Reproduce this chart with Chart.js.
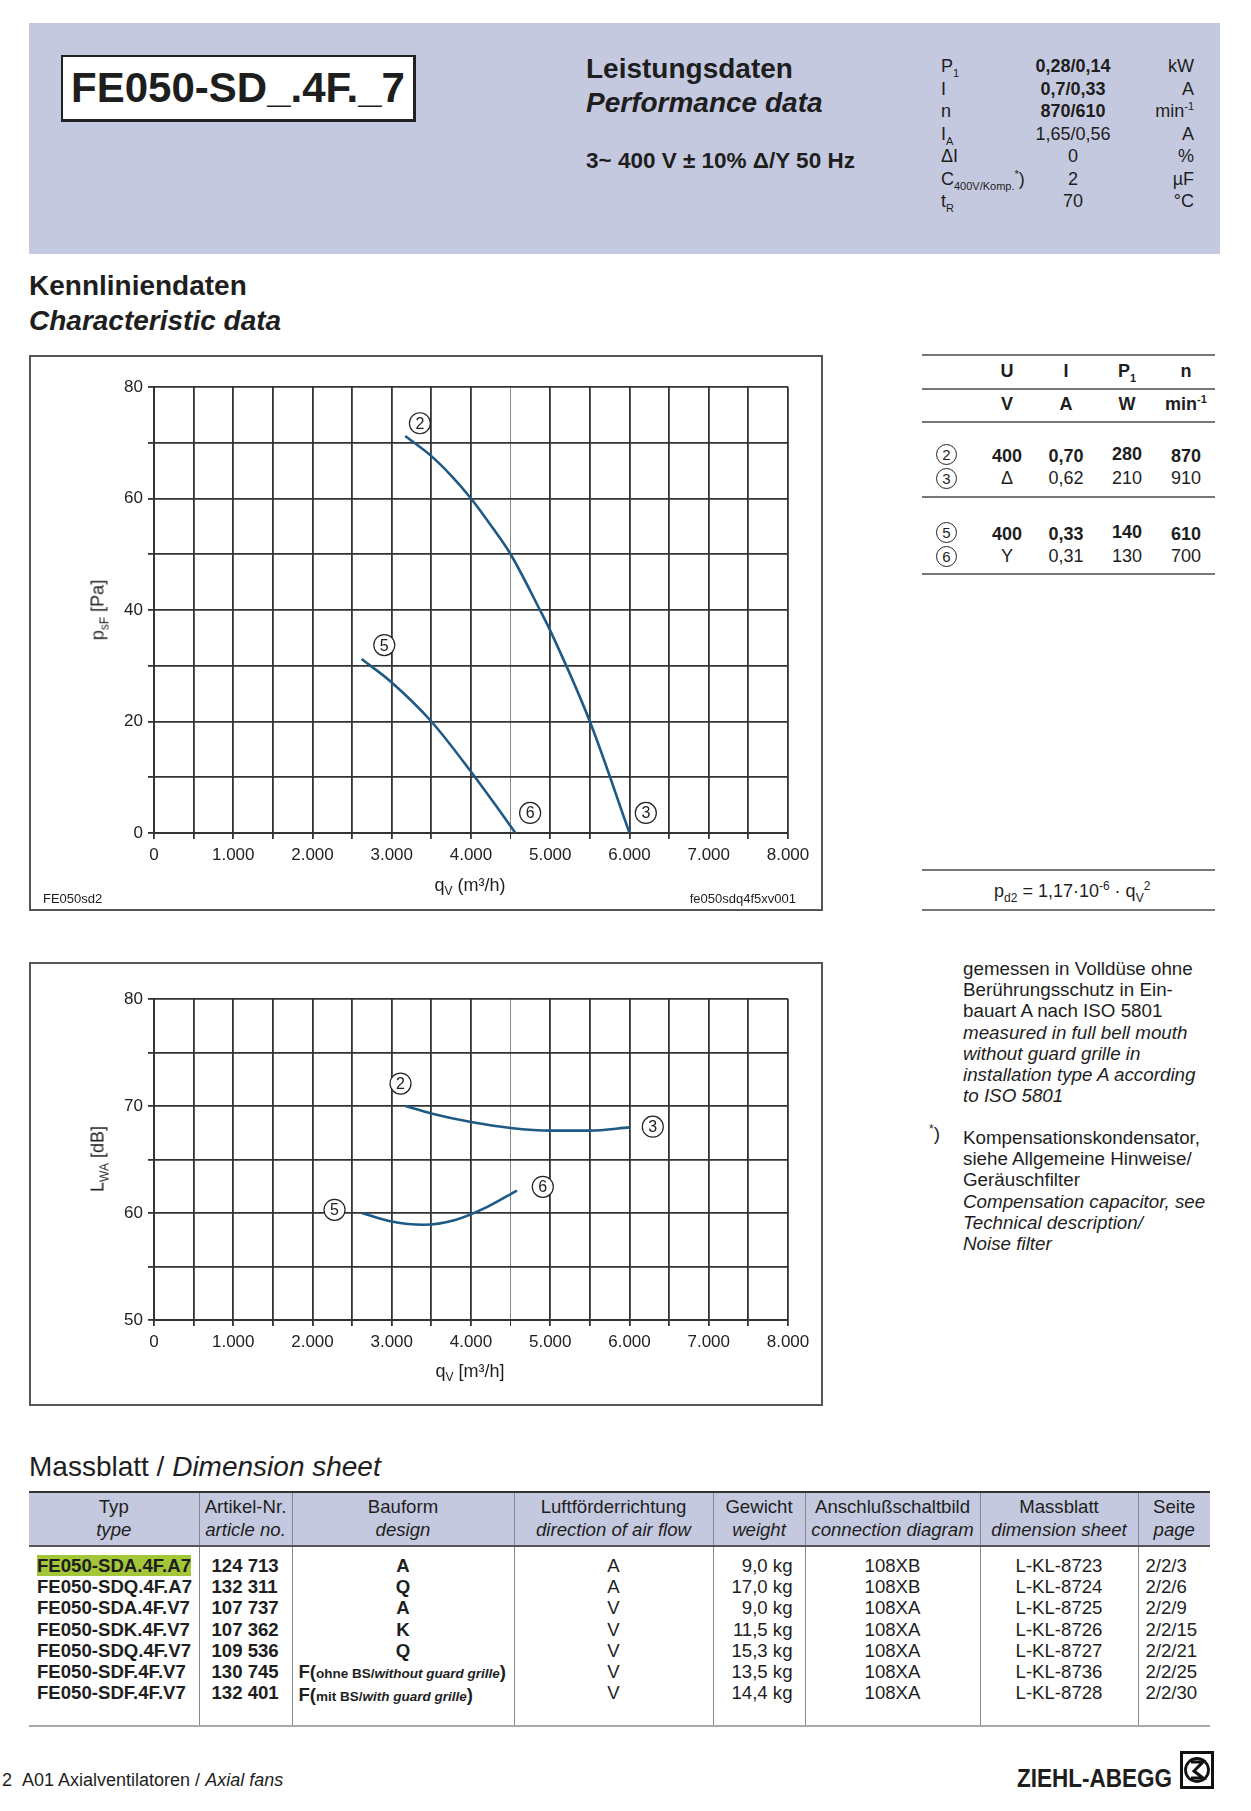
<!DOCTYPE html>
<html>
<head>
<meta charset="utf-8">
<script src="https://cdn.jsdelivr.net/npm/chart.js@4"></script>
<style>
body { margin: 0; background: #fff; }
#page { position: relative; width: 1251px; height: 1811px; font-family: "Liberation Sans", Arial, sans-serif; color: #1e1e1e; overflow: hidden; }
sub, sup { line-height: 0; }
.a { position: absolute; white-space: nowrap; }
.frame { position: absolute; border: 2px solid #555; box-sizing: border-box; }
.frame canvas { position: absolute; left: 0; top: 0; }
.hdr { left: 29px; top: 23px; width: 1191px; height: 231px; background: #c5c9df; }
.title { left: 61px; top: 55px; width: 355px; height: 67px; box-sizing: border-box; background: #fff; border: 2px solid #222; border-right-width: 3px; border-bottom-width: 3px; font: bold 42px "Liberation Sans", Arial, sans-serif; text-align: center; line-height: 62px; }
.par { font-size: 18px; line-height: 22.5px; }
.note { left: 963px; font-size: 18.8px; line-height: 21.2px; }
.note i { display: block; }
table.dim { position: absolute; left: 29px; top: 1491px; width: 1181px; border-collapse: collapse; table-layout: fixed; font-size: 18.6px; }
table.dim th { background: #c5c9df; font-weight: normal; line-height: 23px; padding: 2px 0 4px; border-top: 2px solid #333; border-bottom: 2px solid #555; border-left: 1px solid #888; }
table.dim th:first-child, table.dim td:first-child { border-left: none; }
table.dim td { vertical-align: top; padding: 8px 0 0; line-height: 21.2px; height: 170px; border-left: 1px solid #888; border-bottom: 2px solid #aaa; }
</style>
</head>
<body>
<div id="page">
  <div class="a hdr"></div>
  <div class="a title">FE050-SD_.4F._7</div>
  <div class="a" style="left:586px;top:52px;font-size:28px;font-weight:bold;line-height:34px;">Leistungsdaten<br><i>Performance data</i></div>
  <div class="a" style="left:586px;top:148px;font-size:22.5px;font-weight:bold;">3~ 400 V ± 10% Δ/Y 50 Hz</div>
  <div class="a par" style="left:941px;top:55px;">P<sub style="font-size:11px">1</sub><br>I<br>n<br>I<sub style="font-size:11px">A</sub><br>ΔI<br>C<sub style="font-size:11px">400V/Komp.</sub><sup style="font-size:11px">*</sup>)<br>t<sub style="font-size:11px">R</sub></div>
  <div class="a par" style="left:1003px;top:55px;width:140px;text-align:center;"><b>0,28/0,14</b><br><b>0,7/0,33</b><br><b>870/610</b><br>1,65/0,56<br>0<br>2<br>70</div>
  <div class="a par" style="left:1100px;top:55px;width:94px;text-align:right;">kW<br>A<br>min<sup style="font-size:11px">-1</sup><br>A<br>%<br>µF<br>°C</div>

  <div class="a" style="left:29px;top:268px;font-size:28px;font-weight:bold;line-height:35px;">Kennliniendaten<br><i>Characteristic data</i></div>

  <!-- pressure chart -->
  <div class="frame" style="left:29px;top:355px;width:794px;height:556px;">
    <canvas id="c1"></canvas>
  </div>
  <div class="a" style="left:98px;top:610px;font-size:18px;transform:translate(-50%,-50%) rotate(-90deg);">p<sub style="font-size:12px">sF</sub> [Pa]</div>
  <div class="a" style="left:470px;top:885px;font-size:18px;transform:translate(-50%,-50%);">q<sub style="font-size:12px">V</sub> (m³/h)</div>
  <div class="a" style="left:43px;top:891px;font-size:13px;">FE050sd2</div>
  <div class="a" style="left:680px;top:891px;width:116px;font-size:13px;text-align:right;">fe050sdq4f5xv001</div>

  <!-- noise chart -->
  <div class="frame" style="left:29px;top:962px;width:794px;height:444px;">
    <canvas id="c2"></canvas>
  </div>
  <div class="a" style="left:98px;top:1159px;font-size:18px;transform:translate(-50%,-50%) rotate(-90deg);">L<sub style="font-size:12px">WA</sub> [dB]</div>
  <div class="a" style="left:470px;top:1371px;font-size:18px;transform:translate(-50%,-50%);">q<sub style="font-size:12px">V</sub> [m³/h]</div>

  <!-- operating points table -->
  <div class="a" style="left:922px;top:354px;width:293px;border-top:2px solid #777;"></div>
  <div class="a" style="left:922px;top:388px;width:293px;border-top:2px solid #777;"></div>
  <div class="a" style="left:922px;top:421px;width:293px;border-top:2px solid #777;"></div>
  <div class="a" style="left:922px;top:496px;width:293px;border-top:2px solid #777;"></div>
  <div class="a" style="left:922px;top:573px;width:293px;border-top:2px solid #777;"></div>
  <div class="a" style="left:922px;top:869px;width:293px;border-top:2px solid #777;"></div>
  <div class="a" style="left:922px;top:909px;width:293px;border-top:2px solid #777;"></div>
  <div id="optab"></div>
  <div class="a" style="left:994px;top:881px;font-size:18px;">p<sub style="font-size:12px">d2</sub> = 1,17·10<sup style="font-size:12px">-6</sup> · q<sub style="font-size:12px">V</sub><sup style="font-size:12px">2</sup></div>

  <div class="a note" style="top:958px;">gemessen in Volldüse ohne<br>Berührungsschutz in Ein-<br>bauart A nach ISO 5801<i>measured in full bell mouth</i><i>without guard grille in</i><i>installation type A according</i><i>to ISO 5801</i></div>
  <div class="a" style="left:929px;top:1123px;font-size:19px;"><sup style="font-size:12px">*</sup>)</div>
  <div class="a note" style="top:1127px;">Kompensationskondensator,<br>siehe Allgemeine Hinweise/<br>Geräuschfilter<i>Compensation capacitor, see</i><i>Technical description/</i><i>Noise filter</i></div>

  <div class="a" style="left:29px;top:1451px;font-size:28px;">Massblatt / <i>Dimension sheet</i></div>
  <table class="dim">
    <colgroup><col style="width:170px"><col style="width:93px"><col style="width:222px"><col style="width:199px"><col style="width:92px"><col style="width:175px"><col style="width:158px"><col style="width:72px"></colgroup>
    <tr><th>Typ<br><i>type</i></th><th>Artikel-Nr.<br><i>article no.</i></th><th>Bauform<br><i>design</i></th><th>Luftförderrichtung<br><i>direction of air flow</i></th><th>Gewicht<br><i>weight</i></th><th>Anschlußschaltbild<br><i>connection diagram</i></th><th>Massblatt<br><i>dimension sheet</i></th><th>Seite<br><i>page</i></th></tr>
    <tr>
      <td style="font-weight:bold;padding-left:8px;"><span style="background:#a4c639;">FE050-SDA.4F.A7</span><br>FE050-SDQ.4F.A7<br>FE050-SDA.4F.V7<br>FE050-SDK.4F.V7<br>FE050-SDQ.4F.V7<br>FE050-SDF.4F.V7<br>FE050-SDF.4F.V7</td>
      <td style="font-weight:bold;padding-left:12px;">124 713<br>132 311<br>107 737<br>107 362<br>109 536<br>130 745<br>132 401</td>
      <td style="font-weight:bold;text-align:center;">A<br>Q<br>A<br>K<br>Q<br><span style="display:block;text-align:left;padding-left:6px;">F(<span style="font-size:13.5px">ohne BS/<i>without guard grille</i></span>)</span><span style="display:block;text-align:left;padding-left:6px;">F(<span style="font-size:13.5px">mit BS/<i>with guard grille</i></span>)</span></td>
      <td style="text-align:center;">A<br>A<br>V<br>V<br>V<br>V<br>V</td>
      <td style="text-align:right;padding-right:12px;">9,0 kg<br>17,0 kg<br>9,0 kg<br>11,5 kg<br>15,3 kg<br>13,5 kg<br>14,4 kg</td>
      <td style="text-align:center;">108XB<br>108XB<br>108XA<br>108XA<br>108XA<br>108XA<br>108XA</td>
      <td style="text-align:center;">L-KL-8723<br>L-KL-8724<br>L-KL-8725<br>L-KL-8726<br>L-KL-8727<br>L-KL-8736<br>L-KL-8728</td>
      <td style="padding-left:7px;">2/2/3<br>2/2/6<br>2/2/9<br>2/2/15<br>2/2/21<br>2/2/25<br>2/2/30</td>
    </tr>
  </table>

  <div class="a" style="left:2px;top:1770px;font-size:18px;">2&nbsp;&nbsp;A01 Axialventilatoren / <i>Axial fans</i></div>
  <div class="a" style="left:1017px;top:1764px;font-size:25px;font-weight:bold;transform:scaleX(0.9);transform-origin:left top;">ZIEHL-ABEGG</div>
  <svg class="a" style="left:1180px;top:1751px;" width="34" height="38" viewBox="0 0 34 38">
    <rect x="1.5" y="1.5" width="31" height="35" fill="#fff" stroke="#111" stroke-width="3"/>
    <circle cx="17" cy="19" r="11.5" fill="none" stroke="#111" stroke-width="2.8"/>
    <path d="M11 11 L23 11 L14 20 L23 27 L11 27" fill="none" stroke="#111" stroke-width="3"/>
  </svg>
</div>

<script>
// flow axis, m3/h
var qMin = 0, qMax = 8000, qStep = 500;

// pressure curves psF [Pa]
var q23 = [ 3170, 3500, 3750, 4000, 4250, 4500, 4870, 5000, 5500, 6000 ];
var p23 = [ 71.2, 67.6, 64.1, 60, 55.2, 50, 40, 36.3, 20, 0 ];
var q56 = [ 2620, 3000, 3500, 4000, 4300, 4560 ];
var p56 = [ 31.2, 27, 20, 11, 5.2, 0 ];

// sound power LWA [dB]
var qL23 = [ 3170, 3500, 4000, 4500, 5000, 5500, 6000 ];
var L23 = [ 70.0, 69.3, 68.5, 67.95, 67.7, 67.7, 68.0 ];
var qL56 = [ 2620, 3000, 3400, 3800, 4200, 4580 ];
var L56 = [ 60.0, 59.2, 58.9, 59.35, 60.55, 62.1 ];

// operating point markers
var markP = [ [ "2", 3355, 73.5 ], [ "5", 2906, 33.7 ], [ "6", 4746, 3.6 ], [ "3", 6206, 3.6 ] ];
var markL = [ [ "2", 3111, 72.1 ], [ "3", 6294, 68.07 ], [ "6", 4906, 62.45 ], [ "5", 2278, 60.3 ] ];

// operating point table
var opNo = [ "2", "3", "5", "6" ];
var opU = [ "400", "Δ", "400", "Y" ];
var opI = [ "0,70", "0,62", "0,33", "0,31" ];
var opP = [ "280", "210", "140", "130" ];
var opN = [ "870", "910", "610", "700" ];

var lineColor = "#1d5a86";

function pts( xs, ys ) {
    return xs.map( function ( x, i ) { return { x: x, y: ys[ i ] }; } );
}

function circled( ctx, txt, x, y ) {
    ctx.save();
    ctx.beginPath();
    ctx.arc( x, y, 10.5, 0, Math.PI * 2 );
    ctx.fillStyle = "#fff";
    ctx.fill();
    ctx.lineWidth = 1.2;
    ctx.strokeStyle = "#222";
    ctx.stroke();
    ctx.fillStyle = "#222";
    ctx.font = "16px 'Liberation Sans', Arial, sans-serif";
    ctx.textAlign = "center";
    ctx.textBaseline = "middle";
    ctx.fillText( txt, x, y + 1 );
    ctx.restore();
}

function makeChart( id, w, h, top, bottom, yMin, yMax, yStep, yLabelStep, sets, marks ) {
    var cv = document.getElementById( id );
    cv.width = w;
    cv.height = h;
    var markPlugin = {
        id: "marks",
        afterDatasetsDraw: function ( chart ) {
            var xs = chart.scales.x, ys = chart.scales.y;
            marks.forEach( function ( m ) {
                circled( chart.ctx, m[ 0 ], xs.getPixelForValue( m[ 1 ] ), ys.getPixelForValue( m[ 2 ] ) );
            } );
        }
    };
    return new Chart( cv.getContext( "2d" ), {
        type: "line",
        data: {
            datasets: sets.map( function ( s ) {
                return {
                    data: s,
                    borderColor: lineColor,
                    borderWidth: 2.6,
                    pointRadius: 0,
                    fill: false,
                    cubicInterpolationMode: "monotone"
                };
            } )
        },
        options: {
            responsive: false,
            animation: false,
            devicePixelRatio: 1,
            layout: { padding: { left: 0, right: 33, top: top, bottom: 0 } },
            plugins: { legend: { display: false }, tooltip: { enabled: false } },
            scales: {
                x: {
                    type: "linear",
                    min: qMin,
                    max: qMax,
                    afterFit: function ( s ) { s.height = bottom; },
                    ticks: {
                        stepSize: qStep,
                        autoSkip: false,
                        maxRotation: 0,
                        padding: 6,
                        color: "#222",
                        font: { size: 17, family: "'Liberation Sans', Arial, sans-serif" },
                        callback: function ( v ) {
                            if ( v % 1000 ) return "";
                            return v === 0 ? "0" : ( v / 1000 ) + ".000";
                        }
                    },
                    grid: {
                        color: function ( c ) { return c.tick && c.tick.value === 4500 ? "#888" : "#333"; },
                        lineWidth: function ( c ) { return c.tick && c.tick.value === 4500 ? 1 : 1.8; },
                        tickLength: 6,
                        tickColor: "#333"
                    },
                    border: { color: "#333", width: 2 }
                },
                y: {
                    min: yMin,
                    max: yMax,
                    afterFit: function ( s ) { s.width = 123; },
                    ticks: {
                        stepSize: yStep,
                        autoSkip: false,
                        padding: 5,
                        color: "#222",
                        font: { size: 17, family: "'Liberation Sans', Arial, sans-serif" },
                        callback: function ( v ) { return v % yLabelStep ? "" : String( v ); }
                    },
                    grid: { color: "#333", lineWidth: 1.8, tickLength: 6, tickColor: "#333" },
                    border: { color: "#333", width: 2 }
                }
            }
        },
        plugins: [ markPlugin ]
    } );
}

makeChart( "c1", 790, 552, 30, 76, 0, 80, 10, 20, [ pts( q23, p23 ), pts( q56, p56 ) ], markP );
makeChart( "c2", 790, 440, 35, 84, 50, 80, 5, 10, [ pts( qL23, L23 ), pts( qL56, L56 ) ], markL );

// operating point table
( function () {
    var host = document.getElementById( "optab" );
    var hdr = [ [ "U", "V" ], [ "I", "A" ], [ "P<sub style='font-size:11px'>1</sub>", "W" ], [ "n", "min<sup style='font-size:11px'>-1</sup>" ] ];
    var cx = [ 1007, 1066, 1127, 1186 ];
    var html = "";
    hdr.forEach( function ( hd, i ) {
        html += "<div class='a' style='left:" + ( cx[ i ] - 40 ) + "px;width:80px;text-align:center;top:361px;font-size:18px;font-weight:bold;'>" + hd[ 0 ] + "</div>";
        html += "<div class='a' style='left:" + ( cx[ i ] - 40 ) + "px;width:80px;text-align:center;top:394px;font-size:18px;font-weight:bold;'>" + hd[ 1 ] + "</div>";
    } );
    var rowY = [ 444, 468, 522, 546 ];
    opNo.forEach( function ( n, r ) {
        var bold = r % 2 === 0 ? "bold" : "normal";
        var cells = [ opU[ r ], opI[ r ], opP[ r ], opN[ r ] ];
        html += "<div class='a' style='left:936px;top:" + ( rowY[ r ] ) + "px;width:19px;height:19px;border:1.2px solid #222;border-radius:50%;text-align:center;font-size:15px;line-height:19px;'>" + n + "</div>";
        cells.forEach( function ( c, i ) {
            var dy = ( r % 2 === 0 && i !== 2 ) ? 2 : 0;
            html += "<div class='a' style='left:" + ( cx[ i ] - 40 ) + "px;width:80px;text-align:center;top:" + ( rowY[ r ] + dy ) + "px;font-size:18px;font-weight:" + bold + ";'>" + c + "</div>";
        } );
    } );
    host.innerHTML = html;
} )();
</script>
</body>
</html>
